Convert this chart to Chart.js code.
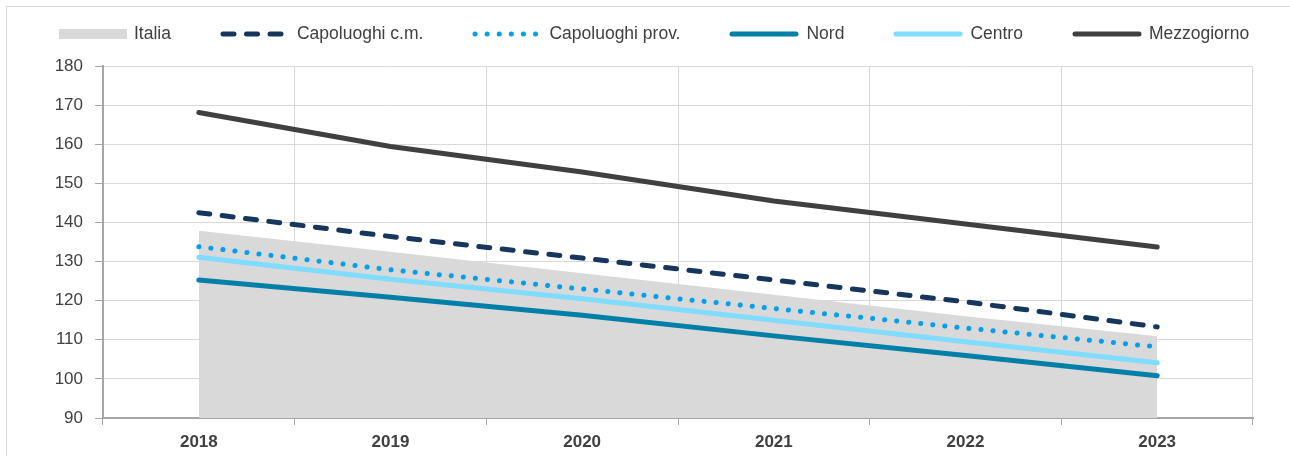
<!DOCTYPE html>
<html>
<head>
<meta charset="utf-8">
<script src="https://cdn.jsdelivr.net/npm/chart.js@4/dist/chart.umd.min.js"></script>
<style>
    body { margin: 0; background: #fff; }
    #frame { position: absolute; left: 6px; top: 6px; width: 1300px; height: 470px; border: 1px solid #d9d9d9; }
    #wrap { position: absolute; left: 0; top: 0; width: 1290px; height: 456px; }
    #legend { position: absolute; left: 59px; top: 23px; display: flex; align-items: center;
        font-family: "Liberation Sans", Arial, sans-serif;
        font-size: 17.5px; color: #404040; white-space: nowrap; }
    .item { display: flex; align-items: center; margin-right: 49px; }
    .item svg { margin-right: 7px; }
</style>
</head>
<body>
<div id="frame"></div>
<div id="wrap"><canvas id="chart" width="1290" height="456"></canvas></div>
<div id="legend"></div>
<script>
const years = ["2018", "2019", "2020", "2021", "2022", "2023"];

const italia = [137.9, 132.5, 127.0, 121.5, 116.0, 110.9];
const capoluoghiCm = [142.5, 136.4, 130.9, 125.3, 119.7, 113.3];
const capoluoghiProv = [133.8, 127.9, 123.0, 118.0, 113.0, 108.2];
const nord = [125.3, 120.9, 116.3, 111.0, 106.0, 100.8];
const centro = [131.1, 125.5, 120.5, 115.0, 109.5, 104.1];
const mezzogiorno = [168.1, 159.4, 152.9, 145.5, 139.6, 133.7];

const fontFamily = "'Liberation Sans', Arial, sans-serif";

function lineSet(label, data, color, dash) {
    return {
        label: label,
        data: data,
        borderColor: color,
        backgroundColor: color,
        borderWidth: 5,
        borderDash: dash || [],
        borderCapStyle: "round",
        pointRadius: 0,
        tension: 0,
        fill: false,
        order: 1
    };
}

const datasets = [
    {
        label: "Italia",
        data: italia,
        borderWidth: 0,
        borderColor: "rgba(0,0,0,0)",
        backgroundColor: "#d9d9d9",
        pointRadius: 0,
        fill: "start",
        order: 10
    },
    lineSet("Capoluoghi c.m.", capoluoghiCm, "#17365d", [11, 12.5]),
    lineSet("Capoluoghi prov.", capoluoghiProv, "#00a0f0", [0.1, 12]),
    lineSet("Nord", nord, "#0080a8"),
    lineSet("Centro", centro, "#7fdbff"),
    lineSet("Mezzogiorno", mezzogiorno, "#404040")
];

const ctx = document.querySelector("#chart");
const chart = new Chart(ctx, {
    type: "line",
    data: { labels: years, datasets: datasets },
    options: {
        responsive: false,
        animation: false,
        layout: { padding: { left: 0, right: 37, top: 66, bottom: 0 } },
        plugins: {
            legend: { display: false },
            tooltip: { enabled: false }
        },
        scales: {
            x: {
                offset: true,
                grid: { offset: true, color: "#d9d9d9", lineWidth: 1, tickColor: "#a6a6a6", tickLength: 7 },
                border: { color: "#a6a6a6", width: 2 },
                ticks: {
                    color: "#404040",
                    padding: 7,
                    font: { family: fontFamily, size: 17, weight: "bold" }
                },
                afterFit: scale => { scale.height = 38; }
            },
            y: {
                min: 90,
                max: 180,
                ticks: {
                    stepSize: 10,
                    color: "#404040",
                    padding: 12,
                    font: { family: fontFamily, size: 17 }
                },
                grid: { color: "#d9d9d9", lineWidth: 1, tickColor: "#a6a6a6", tickLength: 8 },
                border: { color: "#a6a6a6", width: 2 },
                afterFit: scale => { scale.width = 103; }
            }
        }
    }
});

// legend drawn as html, samples follow each dataset's stroke
const legendEl = document.querySelector("#legend");
chart.data.datasets.forEach(ds => {
    const item = document.createElement("div");
    item.className = "item";
    let sample;
    if (ds.fill) {
        sample = `<svg width="68" height="12"><rect x="0" y="1" width="68" height="10" fill="${ds.backgroundColor}"/></svg>`;
    } else {
        const dash = ds.borderDash.length ? `stroke-dasharray="${ds.borderDash.join(" ")}"` : "";
        sample = `<svg width="70" height="12"><line x1="3" y1="6" x2="67" y2="6" stroke="${ds.borderColor}" stroke-width="5" stroke-linecap="round" ${dash}/></svg>`;
    }
    item.innerHTML = sample + `<span>${ds.label}</span>`;
    legendEl.appendChild(item);
});
</script>
</body>
</html>
